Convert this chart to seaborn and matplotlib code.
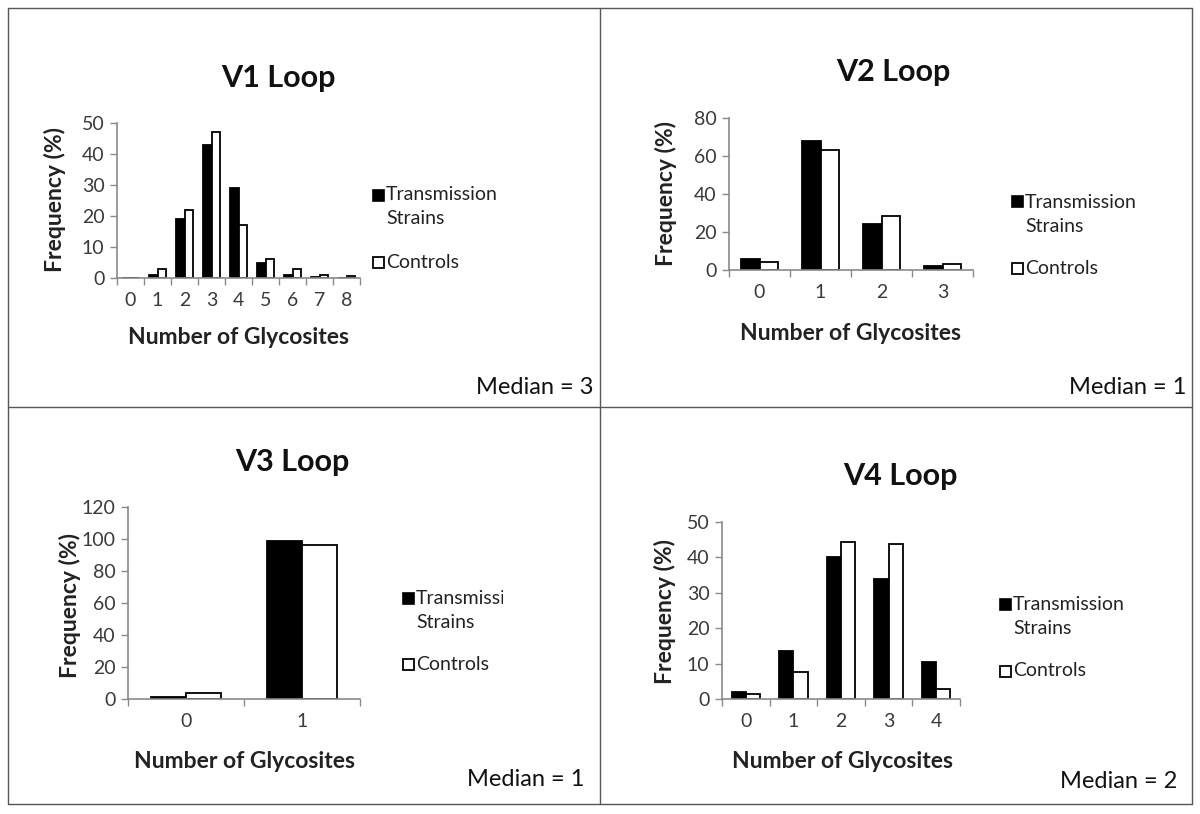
import matplotlib
matplotlib.use("Agg")
import matplotlib.pyplot as plt
from matplotlib.patches import Rectangle
from matplotlib.lines import Line2D
import seaborn as sns
import pandas as pd

# ---------------- data ----------------
groups = ["Transmission Strains", "Controls"]

v1_cats = ["0", "1", "2", "3", "4", "5", "6", "7", "8"]
v1_trans = [0, 1, 19, 43, 29, 5, 1, 0.3, 0]
v1_ctrl = [0, 3, 22, 47, 17, 6, 3, 1, 0.5]

v2_cats = ["0", "1", "2", "3"]
v2_trans = [5.6, 68, 24, 2]
v2_ctrl = [4, 63, 28.5, 3]

v3_cats = ["0", "1"]
v3_trans = [1, 98.5]
v3_ctrl = [3.8, 96.2]

v4_cats = ["0", "1", "2", "3", "4"]
v4_trans = [2.1, 13.5, 40, 34, 10.5]
v4_ctrl = [1.3, 7.5, 44.4, 43.8, 2.8]

titles = ["V1 Loop", "V2 Loop", "V3 Loop", "V4 Loop"]
medians = ["Median = 3", "Median = 1", "Median = 1", "Median = 2"]
y_ticks = [[0, 10, 20, 30, 40, 50], [0, 20, 40, 60, 80],
           [0, 20, 40, 60, 80, 100, 120], [0, 10, 20, 30, 40, 50]]

# ---------------- style ----------------
sns.set_style("white")
plt.rcParams["font.family"] = ["Lato", "DejaVu Sans"]

W, H = 1200, 814
fig = plt.figure(figsize=(W / 100, H / 100), dpi=100)

def fx(x):
    return x / W

def fy(y):
    return 1 - y / H

AX_GRAY = "#8a8a8a"
TXT = "#3a3a3a"

panels = [
    dict(cats=v1_cats, tr=v1_trans, ct=v1_ctrl, ax=(117, 360, 123, 278), title=(278, 78),
         ylab=(55, 200), xlab=(238, 338), leg=(373, 195, 262), med=(593, 387)),
    dict(cats=v2_cats, tr=v2_trans, ct=v2_ctrl, ax=(729, 973, 118, 270), title=(893, 72),
         ylab=(666, 194), xlab=(851, 334), leg=(1012, 202, 268), med=(1186, 387)),
    dict(cats=v3_cats, tr=v3_trans, ct=v3_ctrl, ax=(128, 360, 507, 699), title=(292, 462),
         ylab=(70, 606), xlab=(244, 762), leg=(403, 598, 664), med=(584, 780), clip=503),
    dict(cats=v4_cats, tr=v4_trans, ct=v4_ctrl, ax=(722, 960, 522, 699), title=(900, 476),
         ylab=(665, 612), xlab=(842, 762), leg=(1000, 604, 671), med=(1177, 781)),
]

for i, p in enumerate(panels):
    l, r, t, b = p["ax"]
    ax = fig.add_axes([fx(l), fy(b), (r - l) / W, (b - t) / H])
    df = pd.DataFrame({
        "glyco": p["cats"] * 2,
        "freq": list(p["tr"]) + list(p["ct"]),
        "group": [groups[0]] * len(p["cats"]) + [groups[1]] * len(p["cats"]),
    })
    sns.barplot(data=df, x="glyco", y="freq", hue="group", order=p["cats"],
                hue_order=groups, palette={groups[0]: "black", groups[1]: "white"},
                edgecolor="black", linewidth=1.3, width=0.6, legend=False, ax=ax)
    n = len(p["cats"])
    ax.set_xlim(-0.5, n - 0.5)
    yt = y_ticks[i]
    ax.set_ylim(0, yt[-1])
    ax.set_yticks(yt)
    ax.set_xticks(range(n))
    ax.set_xticks([k - 0.5 for k in range(n + 1)], minor=True)
    ax.tick_params(axis="x", which="major", length=0, pad=10, labelsize=14, labelcolor=TXT)
    ax.tick_params(axis="x", which="minor", length=5, width=1, color=AX_GRAY, direction="out")
    ax.tick_params(axis="y", length=5, width=1, color=AX_GRAY, direction="out",
                   labelsize=14, labelcolor=TXT, pad=4)
    ax.tick_params(left=True, bottom=True, which="both")
    sns.despine(ax=ax)
    for s in ("left", "bottom"):
        ax.spines[s].set_color(AX_GRAY)
        ax.spines[s].set_linewidth(1.2)
    ax.set_xlabel("")
    ax.set_ylabel("")

    fig.text(fx(p["title"][0]), fy(p["title"][1]), titles[i], ha="center", va="center",
             fontsize=22, fontweight="bold", color="#111111")
    fig.text(fx(p["ylab"][0]), fy(p["ylab"][1]), "Frequency (%)", ha="center", va="center",
             rotation=90, fontsize=16.5, fontweight="bold", color="#222222")
    fig.text(fx(p["xlab"][0]), fy(p["xlab"][1]), "Number of Glycosites", ha="center",
             va="center", fontsize=16.5, fontweight="bold", color="#222222")

    lx, ly1, ly2 = p["leg"]
    sq = 11
    fig.patches.append(Rectangle((fx(lx), fy(ly1 + sq / 2)), sq / W, sq / H,
                                 transform=fig.transFigure, facecolor="black",
                                 edgecolor="black", lw=1.2))
    fig.patches.append(Rectangle((fx(lx), fy(ly2 + sq / 2)), sq / W, sq / H,
                                 transform=fig.transFigure, facecolor="white",
                                 edgecolor="black", lw=1.3))
    t1 = fig.text(fx(lx + 13), fy(ly1), "Transmission", ha="left", va="center",
                  fontsize=14, color="#222222")
    if "clip" in p:
        clip = Rectangle((0, 0), fx(p["clip"]), 1, transform=fig.transFigure,
                         facecolor="none", edgecolor="none")
        t1.set_clip_path(clip)
        t1.set_clip_on(True)
    fig.text(fx(lx + 13), fy(ly1 + 24), "Strains", ha="left", va="center",
             fontsize=14, color="#222222")
    fig.text(fx(lx + 13), fy(ly2), "Controls", ha="left", va="center",
             fontsize=14, color="#222222")

    fig.text(fx(p["med"][0]), fy(p["med"][1]), medians[i], ha="right", va="center",
             fontsize=17, color="#111111")

BORDER = "#555555"
for (x0, y0, x1, y1) in [(8, 8, 1192, 8), (8, 804, 1192, 804), (8, 8, 8, 804),
                         (1192, 8, 1192, 804), (600, 8, 600, 804), (8, 407, 1192, 407)]:
    fig.add_artist(Line2D([fx(x0), fx(x1)], [fy(y0), fy(y1)], transform=fig.transFigure,
                          color=BORDER, lw=1.0))

fig.savefig("out.png", dpi=100, facecolor="white")
